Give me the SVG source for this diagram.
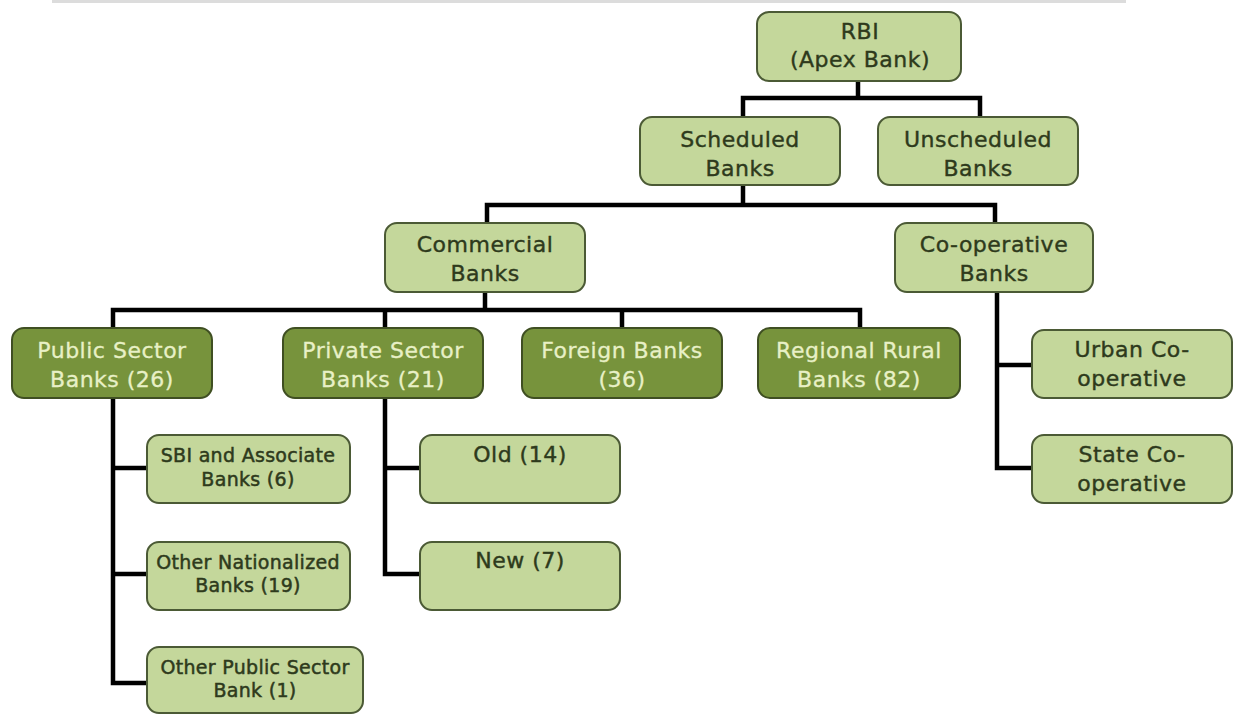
<svg xmlns="http://www.w3.org/2000/svg" width="1233" height="715" viewBox="0 0 1233 715">
<style>
.l{fill:#c4d79b;stroke:#4b5a35;stroke-width:2}
.d{fill:#77933c;stroke:#3f4f22;stroke-width:2}
.t{font-family:"DejaVu Sans",Verdana,sans-serif;font-size:22px;letter-spacing:0.5px;fill:#2e3a1c;stroke:#2e3a1c;stroke-width:0.4px;text-anchor:middle}
.s{font-family:"DejaVu Sans",Verdana,sans-serif;font-size:19px;letter-spacing:0.3px;fill:#2e3a1c;stroke:#2e3a1c;stroke-width:0.5px;text-anchor:middle}
.w{fill:#e8f0c6;stroke:#e8f0c6;stroke-width:0.3px}
.c{fill:none;stroke:#000;stroke-width:4.5}
</style>
<rect x="0" y="0" width="1233" height="715" fill="#fff"/>
<rect x="52" y="0" width="1074" height="3" fill="#dcdcdc"/>
<g id="connectors">
<path class="c" d="M858 80V98M743 117V98H980V117"/>
<path class="c" d="M743 185V205M487 223V205H995V223"/>
<path class="c" d="M485 292V310M113 328V310H860V328M385 310V328M622 310V328"/>
<path class="c" d="M113 398V683H147M113 468H147M113 574H147"/>
<path class="c" d="M385 398V574H420M385 468H420"/>
<path class="c" d="M997 292V468H1032M997 365H1032"/>
</g>
<g id="rbi"><rect class="l" x="757" y="12" width="204" height="69" rx="12"/><text class="t" x="860" y="39">RBI</text><text class="t" x="860" y="67">(Apex Bank)</text></g>
<g id="scheduled"><rect class="l" x="640" y="117" width="200" height="68" rx="12"/><text class="t" x="740" y="147">Scheduled</text><text class="t" x="740" y="176">Banks</text></g>
<g id="unscheduled"><rect class="l" x="878" y="117" width="200" height="68" rx="12"/><text class="t" x="978" y="147">Unscheduled</text><text class="t" x="978" y="176">Banks</text></g>
<g id="commercial"><rect class="l" x="385" y="223" width="200" height="69" rx="12"/><text class="t" x="485" y="252">Commercial</text><text class="t" x="485" y="281">Banks</text></g>
<g id="cooperative"><rect class="l" x="895" y="223" width="198" height="69" rx="12"/><text class="t" x="994" y="252">Co-operative</text><text class="t" x="994" y="281">Banks</text></g>
<g id="public"><rect class="d" x="12" y="328" width="200" height="70" rx="12"/><text class="t w" x="112" y="358">Public Sector</text><text class="t w" x="112" y="387">Banks (26)</text></g>
<g id="private"><rect class="d" x="283" y="328" width="200" height="70" rx="12"/><text class="t w" x="383" y="358">Private Sector</text><text class="t w" x="383" y="387">Banks (21)</text></g>
<g id="foreign"><rect class="d" x="522" y="328" width="200" height="70" rx="12"/><text class="t w" x="622" y="358">Foreign Banks</text><text class="t w" x="622" y="387">(36)</text></g>
<g id="regional"><rect class="d" x="758" y="328" width="202" height="70" rx="12"/><text class="t w" x="859" y="358">Regional Rural</text><text class="t w" x="859" y="387">Banks (82)</text></g>
<g id="sbi"><rect class="l" x="147" y="435" width="203" height="68" rx="12"/><text class="s" x="248" y="462">SBI and Associate</text><text class="s" x="248" y="486">Banks (6)</text></g>
<g id="nationalized"><rect class="l" x="147" y="542" width="203" height="68" rx="12"/><text class="s" x="248" y="569">Other Nationalized</text><text class="s" x="248" y="592">Banks (19)</text></g>
<g id="otherpublic"><rect class="l" x="147" y="647" width="216" height="66" rx="12"/><text class="s" x="255" y="674">Other Public Sector</text><text class="s" x="255" y="697">Bank (1)</text></g>
<g id="old"><rect class="l" x="420" y="435" width="200" height="68" rx="12"/><text class="t" x="520" y="462">Old (14)</text></g>
<g id="new"><rect class="l" x="420" y="542" width="200" height="68" rx="12"/><text class="t" x="520" y="568">New (7)</text></g>
<g id="urban"><rect class="l" x="1032" y="330" width="200" height="68" rx="12"/><text class="t" x="1132" y="357">Urban Co-</text><text class="t" x="1132" y="386">operative</text></g>
<g id="state"><rect class="l" x="1032" y="435" width="200" height="68" rx="12"/><text class="t" x="1132" y="462">State Co-</text><text class="t" x="1132" y="491">operative</text></g>
</svg>
